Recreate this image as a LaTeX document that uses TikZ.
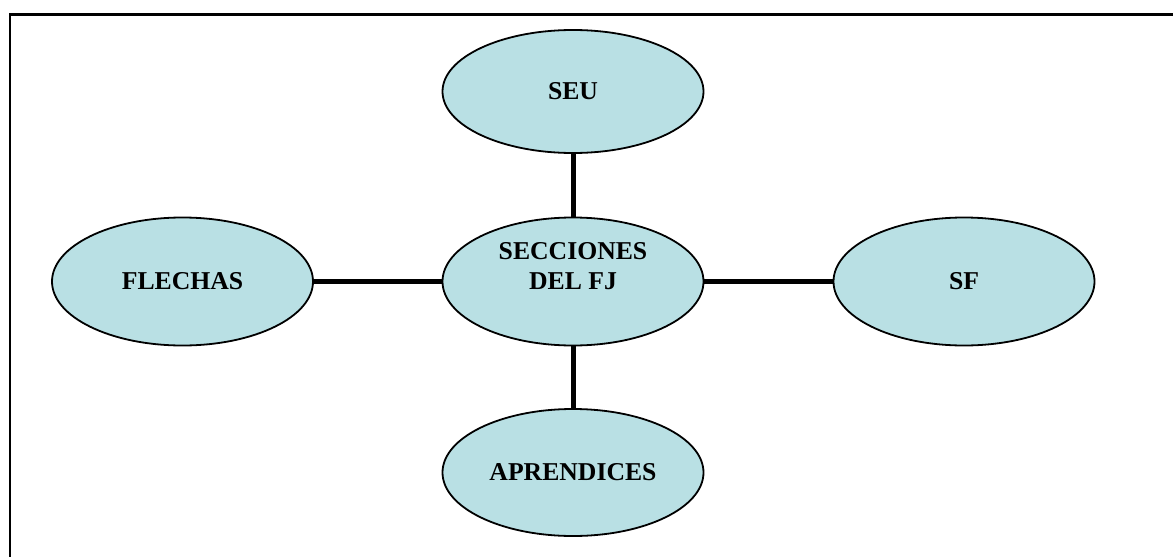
\documentclass[tikz,border=0pt]{standalone}
\usepackage{fontspec}
\setmainfont{Liberation Serif}
\usetikzlibrary{shapes.geometric}
\definecolor{bubblefill}{RGB}{185,224,228}
\tikzset{
  bubble/.style={ellipse, draw=black, line width=1.8pt, fill=bubblefill,
    minimum width=261pt, minimum height=126pt, inner sep=0pt,
    font=\fontsize{25.7}{30}\selectfont\bfseries, align=center},
  lbl/.style={inner sep=0pt, font=\fontsize{25.7}{30}\selectfont\bfseries, align=center},
  link/.style={line width=5pt},
  frame/.style={line width=2.6pt}
}
\begin{document}
\begin{tikzpicture}[x=1pt,y=-1pt]
\useasboundingbox (0,0) rectangle (1173,557);
\fill[white] (0,0) rectangle (1173,557);
\coordinate (fbl) at (10,557);
\coordinate (ftl) at (10,14.3);
\coordinate (ftr) at (1173,14.3);
\draw[frame] (fbl) -- (ftl) -- (ftr);
\node[bubble, minimum height=123pt] (seu) at (573,91.5) {SEU};
\node[bubble, minimum height=128pt] (c) at (573,281.5) {};
\node[lbl] (ct) at (573,266) {SECCIONES\\DEL FJ};
\node[bubble, minimum height=127pt] (apr) at (573,472.5) {APRENDICES};
\node[bubble, minimum height=128pt] (fle) at (182.5,281.5) {FLECHAS};
\node[bubble, minimum height=128pt] (sf) at (964,281.5) {SF};
\draw[link] (seu) -- (c);
\draw[link] (c) -- (apr);
\draw[link] (fle) -- (c);
\draw[link] (c) -- (sf);
\end{tikzpicture}
\end{document}
